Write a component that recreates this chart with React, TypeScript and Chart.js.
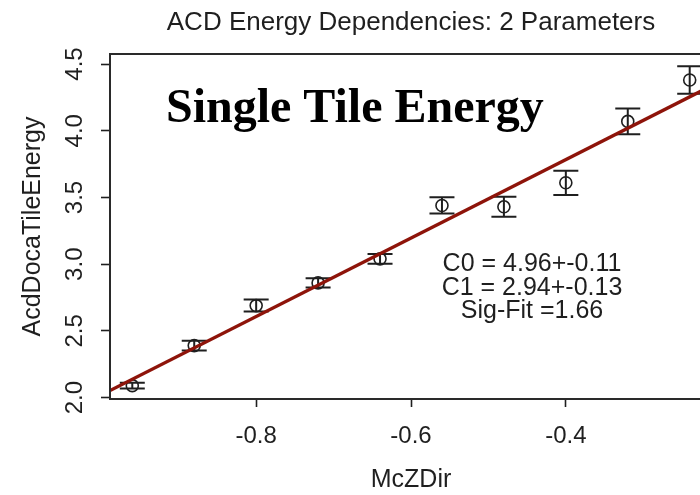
import React, { useEffect, useRef } from "react";
import { Chart, registerables } from "chart.js";

Chart.register(...registerables);

// Binned measurements: direction cosine vs. mean tile energy
const mcZDir = [-0.96, -0.88, -0.8, -0.72, -0.64, -0.56, -0.48, -0.4, -0.32, -0.24];
const tileEnergy = [2.09, 2.39, 2.69, 2.86, 3.04, 3.44, 3.43, 3.61, 4.07, 4.38];
const energyErr = [0.022, 0.037, 0.045, 0.035, 0.037, 0.061, 0.075, 0.091, 0.097, 0.103];

// Fit parameters: E = C0 + C1 * McZDir
const fitC0 = 4.96;
const fitC0Err = 0.11;
const fitC1 = 2.94;
const fitC1Err = 0.13;
const sigFit = 1.66;

const xTickValues = [-0.8, -0.6, -0.4];
const yTickValues = [2.0, 2.5, 3.0, 3.5, 4.0, 4.5];
const xLimits = [-0.9888, -0.2112];
const yLimits = [1.99, 4.575];

const CANVAS_W = 740;
const CANVAS_H = 495;
const SANS = "'Liberation Sans', Arial, sans-serif";
const SERIF = "'Liberation Serif', 'Times New Roman', serif";
const INK = "#1f1f1f";
const FIT_RED = "#8e140a";

const fitLine = xLimits.map((x) => ({ x, y: fitC0 + fitC1 * x }));

const plotDecorations = {
  id: "plotDecorations",
  beforeDatasetsDraw(chart: any) {
    const { ctx, scales } = chart;
    const x = scales.x;
    const y = scales.y;
    ctx.save();
    ctx.strokeStyle = INK;
    ctx.lineWidth = 2;
    const cap = 12.5;
    mcZDir.forEach((xv, i) => {
      const px = x.getPixelForValue(xv);
      const lo = y.getPixelForValue(tileEnergy[i] - energyErr[i]);
      const hi = y.getPixelForValue(tileEnergy[i] + energyErr[i]);
      ctx.beginPath();
      ctx.moveTo(px, lo);
      ctx.lineTo(px, hi);
      ctx.moveTo(px - cap, lo);
      ctx.lineTo(px + cap, lo);
      ctx.moveTo(px - cap, hi);
      ctx.lineTo(px + cap, hi);
      ctx.stroke();
    });
    ctx.restore();
  },
  afterDraw(chart: any) {
    const { ctx, chartArea: a, scales } = chart;
    const y = scales.y;
    ctx.save();

    // frame around the plotting region
    ctx.strokeStyle = "#2a2a2a";
    ctx.lineWidth = 2;
    ctx.strokeRect(a.left, a.top, a.right - a.left, a.bottom - a.top);

    // vertical tick labels on the left axis
    ctx.fillStyle = INK;
    ctx.font = `24px ${SANS}`;
    ctx.textAlign = "center";
    ctx.textBaseline = "alphabetic";
    yTickValues.forEach((v) => {
      const py = y.getPixelForValue(v);
      ctx.save();
      ctx.translate(82, py);
      ctx.rotate(-Math.PI / 2);
      ctx.fillText(v.toFixed(1), 0, 0);
      ctx.restore();
    });

    // main title, centred over the plotting region
    ctx.font = `26px ${SANS}`;
    ctx.fillText("ACD Energy Dependencies: 2 Parameters", (a.left + a.right) / 2, 30);

    // fit summary
    ctx.font = `25px ${SANS}`;
    const cx = 532;
    ctx.fillText(`C0 = ${fitC0.toFixed(2)}+-${fitC0Err.toFixed(2)}`, cx, 271);
    ctx.fillText(`C1 = ${fitC1.toFixed(2)}+-${fitC1Err.toFixed(2)}`, cx, 294.5);
    ctx.fillText(`Sig-Fit =${sigFit.toFixed(2)}`, cx, 318);

    // caption
    ctx.fillStyle = "#000";
    ctx.textAlign = "left";
    ctx.font = `bold 48px ${SERIF}`;
    ctx.fillText("Single Tile Energy", 166, 122);

    ctx.restore();
  },
};

export default function App() {
  const canvasRef = useRef<HTMLCanvasElement | null>(null);

  useEffect(() => {
    const canvas = canvasRef.current;
    if (!canvas) return;
    const chart = new Chart(canvas, {
      type: "scatter",
      data: {
        datasets: [
          {
            type: "line",
            label: "fit",
            data: fitLine,
            borderColor: FIT_RED,
            borderWidth: 3.4,
            pointRadius: 0,
            fill: false,
            tension: 0,
            order: 0,
          } as any,
          {
            label: "AcdDocaTileEnergy",
            data: mcZDir.map((x, i) => ({ x, y: tileEnergy[i] })),
            pointStyle: "circle",
            pointRadius: 6,
            pointBorderWidth: 1.6,
            pointBorderColor: INK,
            pointBackgroundColor: "rgba(0,0,0,0)",
            showLine: false,
            order: 1,
          },
        ],
      },
      options: {
        responsive: false,
        animation: false,
        devicePixelRatio: 1,
        layout: { padding: { top: 54, right: CANVAS_W - 712, left: 0, bottom: 0 } },
        plugins: {
          legend: { display: false },
          tooltip: { enabled: false },
          title: { display: false },
        },
        scales: {
          x: {
            type: "linear",
            min: xLimits[0],
            max: xLimits[1],
            afterBuildTicks: (scale: any) => {
              scale.ticks = xTickValues.map((value) => ({ value }));
            },
            afterFit: (scale: any) => {
              scale.height = CANVAS_H - 399;
            },
            grid: {
              drawOnChartArea: false,
              drawTicks: true,
              tickLength: 8,
              tickWidth: 1.6,
              tickColor: INK,
            },
            border: { display: false },
            ticks: {
              padding: 15,
              color: INK,
              font: { family: SANS, size: 24 },
              callback: (v: any) => Number(v).toFixed(1),
            },
            title: {
              display: true,
              text: "McZDir",
              color: INK,
              font: { family: SANS, size: 25 },
              padding: { top: 0, bottom: 0 },
            },
          },
          y: {
            type: "linear",
            min: yLimits[0],
            max: yLimits[1],
            afterBuildTicks: (scale: any) => {
              scale.ticks = yTickValues.map((value) => ({ value }));
            },
            afterFit: (scale: any) => {
              scale.width = 110;
            },
            grid: {
              drawOnChartArea: false,
              drawTicks: true,
              tickLength: 9,
              tickWidth: 1.6,
              tickColor: INK,
            },
            border: { display: false },
            ticks: { display: false },
            title: {
              display: true,
              text: "AcdDocaTileEnergy",
              color: INK,
              font: { family: SANS, size: 25 },
              padding: { top: 18, bottom: 0 },
            },
          },
        },
      },
      plugins: [plotDecorations],
    });
    return () => chart.destroy();
  }, []);

  return (
    <div
      style={{
        position: "fixed",
        left: 0,
        top: 0,
        width: 700,
        height: CANVAS_H,
        overflow: "hidden",
        background: "#fff",
      }}
    >
      <canvas
        ref={canvasRef}
        width={CANVAS_W}
        height={CANVAS_H}
        style={{ width: CANVAS_W, height: CANVAS_H, display: "block" }}
      />
    </div>
  );
}
